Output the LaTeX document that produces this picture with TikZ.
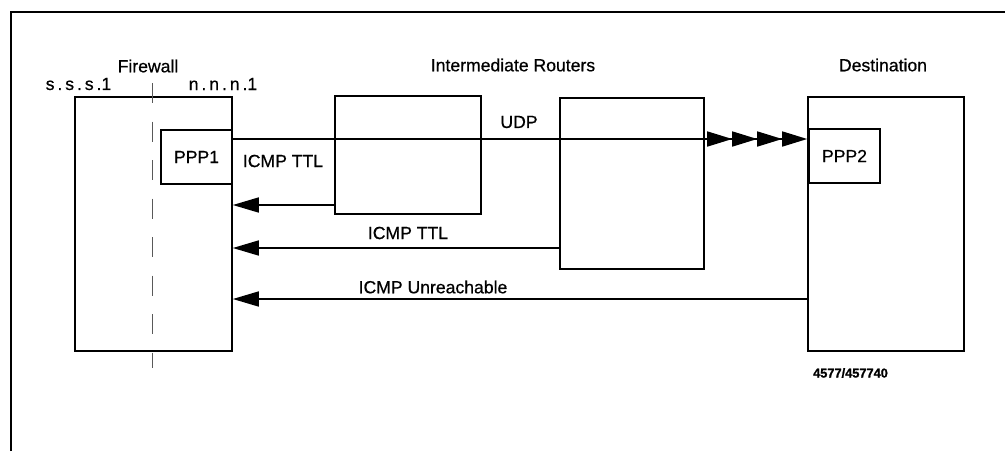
\documentclass[tikz,border=0pt]{standalone}
\usepackage{fontspec}
\setmainfont{Liberation Sans}[FakeBold=0.6]
\newfontfamily\figfont{Liberation Sans}[FakeBold=1.2]
\usetikzlibrary{arrows.meta}
\tikzset{
  box/.style={draw, line width=1.6pt, minimum width=#1, inner sep=0pt},
  lbl/.style={font=\fontsize{17.6}{20}\selectfont, inner sep=0pt},
  arr/.style={line width=1.6pt, -{Triangle[length=26pt,width=15pt]}},
  udparr/.style={line width=1.6pt, -{Triangle[length=25pt,width=15pt] Triangle[length=25pt,width=15pt] Triangle[length=25pt,width=15pt] Triangle[length=25pt,width=15pt]}},
  frame/.style={line width=1.4pt},
}
\begin{document}
\begin{tikzpicture}[x=1pt, y=-1pt]
\useasboundingbox (0,0) rectangle (1005,451);
% outer frame
\coordinate (fa) at (11,451);
\coordinate (fb) at (11,12);
\coordinate (fc) at (1005,12);
\draw[frame] (fa) -- (fb) -- (fc);
% boxes
\node[box=157pt, minimum height=254pt] (fw) at (153.5,224) {};
\node[box=71pt, minimum height=54pt] (ppp1) at (196.5,157) {};
\node[lbl] at (ppp1.center) {PPP1};
\node[box=146pt, minimum height=118pt] (r1) at (408,155) {};
\node[box=144pt, minimum height=171pt] (r2) at (632,183.5) {};
\node[box=156pt, minimum height=254pt] (dst) at (886,224) {};
\node[box=71pt, minimum height=54pt] (ppp2) at (844.5,156) {};
\node[lbl] at (ppp2.center) {PPP2};
% dashed line
\coordinate (da) at (152,83);
\coordinate (db) at (152,368);
\draw[line width=0.9pt, gray!70!black, dash pattern=on 20pt off 18.5pt] (da) -- (db);
% titles
\node[lbl] (tfw) at (148,66) {Firewall};
\node[lbl] (tss) at (78.5,84) {s\,.\,s\,.\,s\,.1};
\node[lbl] (tnn) at (223,84) {n\,.\,n\,.\,n\,.1};
\node[lbl] (tir) at (513,65) {Intermediate Routers};
\node[lbl] (tds) at (883,65) {Destination};
% connectors
\coordinate (yu) at (0,139);
\coordinate (y1) at (0,205);
\coordinate (y2) at (0,248);
\coordinate (y3) at (0,299);
\draw[udparr] (fw.east |- yu) -- (dst.west |- yu);
\draw[arr] (r1.west |- y1) -- (fw.east |- y1);
\draw[arr] (r2.west |- y2) -- (fw.east |- y2);
\draw[arr] (dst.west |- y3) -- (fw.east |- y3);
% labels
\node[lbl] (ludp) at (519,122) {UDP};
\node[lbl] (lttl1) at (283,161) {ICMP TTL};
\node[lbl] (lttl2) at (408,233) {ICMP TTL};
\node[lbl] (lunr) at (433,287) {ICMP Unreachable};
\node[font=\figfont\bfseries\fontsize{12.8}{15}\selectfont, inner sep=0pt] (fig) at (850.5,373) {4577/457740};
\end{tikzpicture}
\end{document}
